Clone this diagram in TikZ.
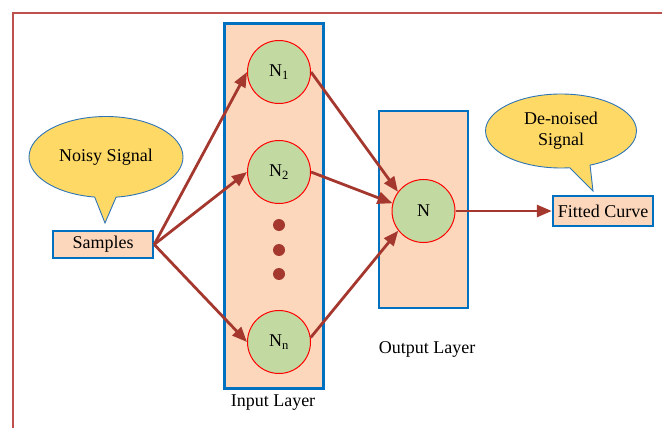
\documentclass[tikz,border=0pt]{standalone}
\usepackage{fontspec}
\setmainfont{Liberation Serif}
\usetikzlibrary{arrows.meta,shapes.callouts}
\definecolor{framered}{HTML}{C0504D}
\definecolor{arrowred}{HTML}{A5382E}
\definecolor{peach}{HTML}{FDD7BC}
\definecolor{boxblue}{HTML}{0070C0}
\definecolor{nodegreen}{HTML}{C2D9A2}
\definecolor{calloutyellow}{HTML}{FFD966}
\definecolor{calloutblue}{HTML}{2E75B6}
\tikzset{
  txt/.style={font=\fontsize{18}{22}\selectfont},
  layer/.style={draw=boxblue, line width=2.6pt, fill=peach},
  neuron/.style={circle, draw=red, line width=1pt, fill=nodegreen, minimum size=63pt, inner sep=0pt, txt},
  iobox/.style={draw=boxblue, line width=2.4pt, fill=peach, inner sep=0pt, txt},
  bubble/.style={ellipse callout, draw=calloutblue, line width=0.9pt, fill=calloutyellow, inner sep=0pt, txt, align=center, callout pointer arc=16},
  conn/.style={draw=arrowred, line width=2.8pt, -{Triangle[length=15pt,width=12pt]}},
  dotc/.style={circle, fill=arrowred, minimum size=12pt, inner sep=0pt}
}
\begin{document}
\begin{tikzpicture}[x=1pt,y=-1pt]
\useasboundingbox (0,0) rectangle (662,428);
\clip (0,0) rectangle (662,428);
% outer frame
\draw[framered, line width=1.8pt] (670,13) -- (13,13) -- (13,440);
% layers
\node[layer, minimum width=99pt, minimum height=365pt, inner sep=0pt] (inl) at (274,206) {};
\node[layer, minimum width=89pt, minimum height=197pt, inner sep=0pt] (outl) at (423.5,209.5) {};
\node[txt] (inlab) at (273,403) {Input Layer};
\node[txt] (outlab) at (427,349) {Output Layer};
% neurons
\node[neuron] (n1) at (279,72) {N\textsubscript{1}};
\node[neuron] (n2) at (279,172) {N\textsubscript{2}};
\node[neuron] (nn) at (279,342) {N\textsubscript{n}};
\node[neuron] (n) at (423.5,211) {N};
\node[dotc] (d1) at (279,225) {};
\node[dotc] (d2) at (279,250) {};
\node[dotc] (d3) at (279,274) {};
% io boxes
\node[iobox, minimum width=100pt, minimum height=27pt] (s) at (103,244.5) {Samples};
\node[iobox, minimum width=100pt, minimum height=30pt] (f) at (603,211) {Fitted Curve};
% callouts
\coordinate (ptr1) at (105,223);
\coordinate (ptr2) at (593,191);
\node[bubble, minimum width=154pt, minimum height=81pt, callout absolute pointer={(ptr1)}] (c1) at (106,157) {Noisy Signal};
\node[bubble, minimum width=151pt, minimum height=74pt, callout absolute pointer={(ptr2)}] (c2) at (561,131) {De-noised\\[-1pt]Signal};
% connectors
\draw[conn] (s.east) -- (n1.west);
\draw[conn] (s.east) -- (n2.west);
\draw[conn] (s.east) -- (nn.west);
\draw[conn] (n1.east) -- (n.143);
\draw[conn] (n2.east) -- (n.166);
\draw[conn] (nn.8) -- (n.218);
\draw[conn] (n.east) -- (f.west);
\end{tikzpicture}
\end{document}
